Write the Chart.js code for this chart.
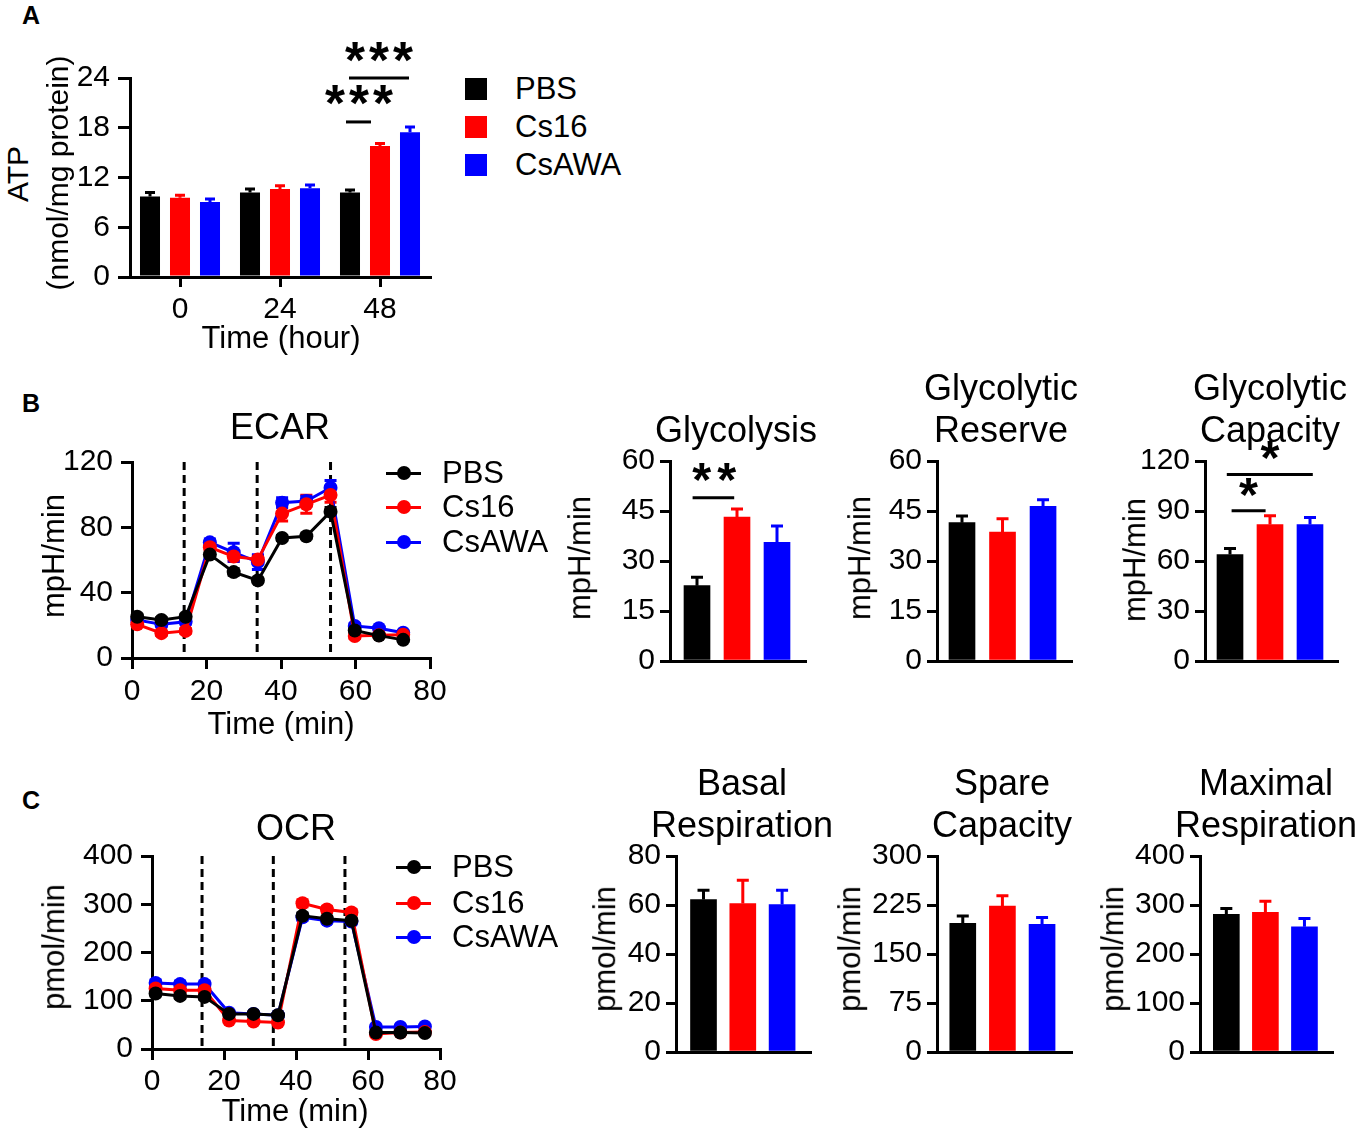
<!DOCTYPE html>
<html>
<head>
<meta charset="utf-8">
<script src="https://cdn.jsdelivr.net/npm/chart.js@4.4.1/dist/chart.umd.min.js"></script>
<style>
  body { margin: 0; background: #fff; }
  #fig { position: relative; width: 1358px; height: 1131px; overflow: hidden; background: #fff;
         font-family: "Liberation Sans", Arial, Helvetica, sans-serif; color: #000; }
  #fig canvas { position: absolute; }
  .lbl { position: absolute; white-space: pre; text-align: center; line-height: 1.15; }
  .sq { position: absolute; width: 22px; height: 22px; }
  .ln { position: absolute; height: 3px; }
  .dot { position: absolute; border-radius: 50%; }
</style>
</head>
<body>
<div id="fig"></div>
<script>
const groups = ['PBS', 'Cs16', 'CsAWA'];
const groupColors = ['#000000', '#ff0000', '#0000ff'];

// A - ATP
const atpHours = ['0', '24', '48'];
const atpPBS = [9.7, 10.2, 10.2];
const atpCs16 = [9.55, 10.6, 15.8];
const atpCsAWA = [9.05, 10.7, 17.45];
const atpErrPBS = [0.5, 0.4, 0.3];
const atpErrCs16 = [0.3, 0.4, 0.3];
const atpErrCsAWA = [0.35, 0.4, 0.65];

// B - ECAR time course
const ecarTime = [1.4, 7.9, 14.4, 20.9, 27.3, 33.8, 40.3, 46.8, 53.3, 59.8, 66.3, 72.8];
const ecarPBS = [25.3, 23.3, 25.3, 63.3, 52.6, 47.5, 73.5, 74.5, 89.6, 16.8, 13.7, 11.1];
const ecarCs16 = [20.6, 15.2, 16.6, 67.8, 62.1, 60.3, 88.4, 94.1, 99.8, 13.5, 14.0, 14.3];
const ecarCsAWA = [23.3, 20.6, 22.2, 70.8, 64.7, 58.7, 95.1, 96.1, 104.2, 19.6, 18.2, 15.5];
const ecarErrPBS = [1.5, 1.5, 1.5, 2, 2, 1.5, 1.5, 1.5, 2.5, 1, 1, 1];
const ecarErrCs16 = [1.5, 1.5, 1.5, 2.5, 3, 2.5, 4.5, 5.5, 4.5, 1.5, 1, 1];
const ecarErrCsAWA = [1.5, 1.5, 1.5, 2, 5.5, 4.5, 3, 3, 4.5, 1.5, 1, 1];
const ecarInject = [14, 33.6, 53.3];

// C - OCR time course
const ocrTime = [1, 7.8, 14.6, 21.4, 28.2, 35, 41.8, 48.6, 55.4, 62.2, 69, 75.8];
const ocrPBS = [115, 110, 108, 72.7, 72.7, 70, 276, 270, 266, 34, 34, 33];
const ocrCs16 = [125.5, 122, 122, 59, 57, 55, 302, 289, 283, 31, 34, 35];
const ocrCsAWA = [137, 134.5, 134.5, 75, 72.7, 70, 273, 266, 264, 45.7, 45.7, 46.5];
const ocrErrPBS = [5, 5, 5, 3, 3, 3, 6, 5, 5, 2, 2, 2];
const ocrErrCs16 = [6, 6, 6, 3, 3, 3, 7, 6, 6, 2, 2, 2];
const ocrErrCsAWA = [6, 6, 6, 3, 3, 3, 6, 5, 5, 2, 2, 2];
const ocrInject = [13.9, 33.7, 53.6];

// summary bars (PBS, Cs16, CsAWA)
const barSlots = [1, 2, 3];
const glycolysis = [22.6, 43.2, 35.6];
const glycolysisErr = [2.5, 2.4, 4.9];
const glycReserve = [41.5, 38.7, 46.4];
const glycReserveErr = [2.0, 4.0, 2.0];
const glycCapacity = [63.9, 81.9, 81.9];
const glycCapacityErr = [3.6, 5.2, 4.2];
const basalResp = [62.2, 60.6, 60.2];
const basalRespErr = [3.8, 9.5, 5.8];
const spareCap = [196.8, 223.3, 195.3];
const spareCapErr = [11.2, 15.7, 10.7];
const maxResp = [280.8, 284.8, 255.6];
const maxRespErr = [12.2, 23, 17];

// significance brackets: x range of the line, its y, star centre and count
const atpSig = [
  {x1: 1.66, x2: 1.91, y: 18.7, sx: 1.79, sy: 21.9, n: 3},
  {x1: 1.69, x2: 2.29, y: 24.0, sx: 1.99, sy: 27.1, n: 3}
];
const glycolysisSig = [{x1: 0.89, x2: 1.93, y: 49.0, sx: 1.43, sy: 56.6, n: 2}];
const capacitySig = [
  {x1: 1.04, x2: 1.89, y: 90.1, sx: 1.46, sy: 104.4, n: 1},
  {x1: 0.92, x2: 3.07, y: 111.9, sx: 2.0, sy: 126.4, n: 1}
];

Chart.defaults.font.family = '"Liberation Sans", Arial, Helvetica, sans-serif';
Chart.defaults.color = '#000';

const fig = document.getElementById('fig');

function makeCanvas(area, yW, xH, pad) {
  const c = document.createElement('canvas');
  const w = area.r - area.l + yW + pad.l + pad.r;
  const h = area.b - area.t + xH + pad.t + pad.b;
  c.width = w; c.height = h;
  c.style.left = (area.l - yW - pad.l) + 'px';
  c.style.top = (area.t - pad.t) + 'px';
  fig.appendChild(c);
  return c;
}

function axis(o) {
  const show = o.ticks !== false;
  return {
    type: o.type, min: o.min, max: o.max, offset: !!o.offset,
    border: {display: true, color: '#000', width: 3},
    grid: {display: show, drawOnChartArea: false, drawTicks: true, tickLength: o.tl || 10,
           lineWidth: 3, color: '#000', offset: false},
    ticks: {display: show, color: '#000', font: {size: 30}, padding: o.pad === undefined ? 5 : o.pad,
            stepSize: o.step, maxRotation: 0, autoSkip: false},
    afterFit: s => {
      if (o.w !== undefined) s.width = o.w;
      if (o.h !== undefined) s.height = o.h;
    }
  };
}

function barErrors(cap) {
  return {
    id: 'barErrors',
    afterDatasetsDraw(chart) {
      const ctx = chart.ctx, ys = chart.scales.y;
      chart.data.datasets.forEach((ds, di) => {
        chart.getDatasetMeta(di).data.forEach((el, i) => {
          const d = ds.data[i];
          const v = typeof d === 'number' ? d : d.y;
          const col = Array.isArray(ds.backgroundColor) ? ds.backgroundColor[i] : ds.backgroundColor;
          const top = ys.getPixelForValue(v + ds.errors[i]);
          ctx.save();
          ctx.strokeStyle = col; ctx.lineWidth = 3;
          ctx.beginPath();
          ctx.moveTo(el.x, el.y); ctx.lineTo(el.x, top);
          ctx.moveTo(el.x - cap / 2, top); ctx.lineTo(el.x + cap / 2, top);
          ctx.stroke();
          ctx.restore();
        });
      });
    }
  };
}

function lineErrors(cap) {
  return {
    id: 'lineErrors',
    beforeDatasetsDraw(chart) {
      const ctx = chart.ctx, ys = chart.scales.y;
      chart.data.datasets.forEach((ds, di) => {
        chart.getDatasetMeta(di).data.forEach((el, i) => {
          const v = ds.data[i].y, e = ds.errors[i];
          const y1 = ys.getPixelForValue(v + e), y2 = ys.getPixelForValue(v - e);
          ctx.save();
          ctx.strokeStyle = ds.borderColor; ctx.lineWidth = 3;
          ctx.beginPath();
          ctx.moveTo(el.x, y1); ctx.lineTo(el.x, y2);
          ctx.moveTo(el.x - cap / 2, y1); ctx.lineTo(el.x + cap / 2, y1);
          ctx.moveTo(el.x - cap / 2, y2); ctx.lineTo(el.x + cap / 2, y2);
          ctx.stroke();
          ctx.restore();
        });
      });
    }
  };
}

function injections(times) {
  return {
    id: 'injections',
    beforeDatasetsDraw(chart) {
      const ctx = chart.ctx, xs = chart.scales.x, a = chart.chartArea;
      ctx.save();
      ctx.strokeStyle = '#000'; ctx.lineWidth = 3; ctx.setLineDash([8, 5]);
      times.forEach(t => {
        const x = xs.getPixelForValue(t);
        ctx.beginPath(); ctx.moveTo(x, a.top); ctx.lineTo(x, a.bottom); ctx.stroke();
      });
      ctx.restore();
    }
  };
}

function drawStar(ctx, cx, cy, size) {
  ctx.font = 'bold 100px "Liberation Sans", Arial, sans-serif';
  let m = ctx.measureText('*');
  const fs = 100 * size / (m.actualBoundingBoxLeft + m.actualBoundingBoxRight);
  ctx.font = 'bold ' + fs.toFixed(1) + 'px "Liberation Sans", Arial, sans-serif';
  m = ctx.measureText('*');
  ctx.textAlign = 'left'; ctx.textBaseline = 'alphabetic';
  const x = cx - (m.actualBoundingBoxRight - m.actualBoundingBoxLeft) / 2;
  const y = cy + (m.actualBoundingBoxAscent - m.actualBoundingBoxDescent) / 2;
  ctx.fillText('*', x, y);
}

function significance(items, size, gap) {
  return {
    id: 'significance',
    afterDraw(chart) {
      const ctx = chart.ctx, xs = chart.scales.x, ys = chart.scales.y;
      ctx.save();
      ctx.strokeStyle = '#000'; ctx.fillStyle = '#000'; ctx.lineWidth = 3;
      items.forEach(s => {
        const y = ys.getPixelForValue(s.y);
        ctx.beginPath();
        ctx.moveTo(xs.getPixelForValue(s.x1), y); ctx.lineTo(xs.getPixelForValue(s.x2), y);
        ctx.stroke();
        const cx = xs.getPixelForValue(s.sx), cy = ys.getPixelForValue(s.sy);
        for (let k = 0; k < s.n; k++) drawStar(ctx, cx + (k - (s.n - 1) / 2) * gap, cy, size);
      });
      ctx.restore();
    }
  };
}

const baseOpts = pad => ({
  responsive: false, animation: false, events: [],
  layout: {padding: {left: pad.l, top: pad.t, right: pad.r, bottom: pad.b}},
  plugins: {legend: {display: false}, tooltip: {enabled: false}}
});

// ---- A: ATP grouped bars
(function () {
  const area = {l: 130, t: 78, r: 430, b: 277}, pad = {l: 5, t: 48, r: 20, b: 5};
  const series = [atpPBS, atpCs16, atpCsAWA], errs = [atpErrPBS, atpErrCs16, atpErrCsAWA];
  const opts = baseOpts(pad);
  opts.scales = {
    x: axis({type: 'category', offset: true, tl: 10, pad: 5, h: 45}),
    y: axis({type: 'linear', min: 0, max: 24, step: 6, tl: 12, pad: 8, w: 60})
  };
  new Chart(makeCanvas(area, 60, 45, pad), {
    type: 'bar',
    data: {
      labels: atpHours,
      datasets: groups.map((g, i) => ({
        label: g, data: series[i], errors: errs[i], backgroundColor: groupColors[i],
        borderWidth: 0, categoryPercentage: 0.9, barPercentage: 0.667
      }))
    },
    options: opts,
    plugins: [barErrors(10), significance(atpSig, 20, 24)]
  });
})();

// ---- time course line charts
function timeCourse(area, times, series, errs, yMax, yStep, inject, yW, xPad) {
  const pad = {l: 5, t: 25, r: 25, b: 5};
  const opts = baseOpts(pad);
  opts.scales = {
    x: axis({type: 'linear', min: 0, max: 80, step: 20, tl: 11, pad: xPad, h: 50}),
    y: axis({type: 'linear', min: 0, max: yMax, step: yStep, tl: 11, pad: 8, w: yW})
  };
  new Chart(makeCanvas(area, yW, 50, pad), {
    type: 'line',
    data: {
      datasets: groups.map((g, i) => ({
        label: g,
        data: times.map((t, j) => ({x: t, y: series[i][j]})),
        errors: errs[i],
        borderColor: groupColors[i], backgroundColor: groupColors[i],
        borderWidth: 3, pointRadius: 7, pointBorderWidth: 0, tension: 0, clip: false
      }))
    },
    options: opts,
    plugins: [injections(inject), lineErrors(12)]
  });
}

timeCourse({l: 132, t: 461, r: 430, b: 658}, ecarTime, [ecarPBS, ecarCs16, ecarCsAWA],
           [ecarErrPBS, ecarErrCs16, ecarErrCsAWA], 120, 40, ecarInject, 80, 5);
timeCourse({l: 152, t: 855, r: 440, b: 1049}, ocrTime, [ocrPBS, ocrCs16, ocrCsAWA],
           [ocrErrPBS, ocrErrCs16, ocrErrCsAWA], 400, 100, ocrInject, 80, 4);

// ---- summary bar charts
function summary(area, xMin, xMax, yMax, yStep, values, errs, sig) {
  const pad = {l: 0, t: 40, r: 5, b: 5};
  const xH = 30;
  const opts = baseOpts(pad);
  opts.scales = {
    x: axis({type: 'linear', min: xMin, max: xMax, ticks: false, h: xH}),
    y: axis({type: 'linear', min: 0, max: yMax, step: yStep, tl: 10, pad: 5, w: 75})
  };
  const plugins = [barErrors(12)];
  if (sig) plugins.push(significance(sig, 19, 25));
  new Chart(makeCanvas(area, 75, xH, pad), {
    type: 'bar',
    data: {
      datasets: [{
        data: barSlots.map((s, i) => ({x: s, y: values[i]})),
        errors: errs, backgroundColor: groupColors, borderWidth: 0, barThickness: 26
      }]
    },
    options: opts,
    plugins: plugins
  });
}

summary({l: 670, t: 461, r: 805, b: 661}, 0.325, 3.7, 60, 15, glycolysis, glycolysisErr, glycolysisSig);
summary({l: 937, t: 461, r: 1071, b: 661}, 0.383, 3.69, 60, 15, glycReserve, glycReserveErr);
summary({l: 1205, t: 461, r: 1337, b: 661}, 0.375, 3.675, 120, 30, glycCapacity, glycCapacityErr, capacitySig);
summary({l: 676, t: 856, r: 810, b: 1052}, 0.30, 3.71, 80, 20, basalResp, basalRespErr);
summary({l: 937, t: 856, r: 1071, b: 1052}, 0.35, 3.73, 300, 75, spareCap, spareCapErr);
summary({l: 1200, t: 856, r: 1332, b: 1052}, 0.326, 3.705, 400, 100, maxResp, maxRespErr);

// ---- text
function label(text, x, y, size, opt) {
  opt = opt || {};
  const d = document.createElement('div');
  d.className = 'lbl';
  d.textContent = text;
  d.style.left = x + 'px';
  d.style.top = y + 'px';
  d.style.fontSize = size + 'px';
  if (opt.lh) d.style.lineHeight = opt.lh + 'px';
  if (opt.bold) d.style.fontWeight = 'bold';
  let tr = opt.left ? 'translate(0,-50%)' : 'translate(-50%,-50%)';
  if (opt.rot) tr += ' rotate(-90deg)';
  d.style.transform = tr;
  fig.appendChild(d);
}

label('A', 31, 15, 25, {bold: true});
label('B', 31, 403, 25, {bold: true});
label('C', 31, 800, 25, {bold: true});

label('ATP', 18, 174, 30, {rot: true});
label('(nmol/mg protein)', 58, 173, 30, {rot: true});
label('Time (hour)', 281, 338, 31);

label('ECAR', 280, 427, 36);
label('mpH/min', 54, 556, 31, {rot: true});
label('Time (min)', 281, 724, 31);

label('OCR', 296, 828, 36);
label('pmol/min', 54, 947, 31, {rot: true});
label('Time (min)', 295, 1111, 31);

label('Glycolysis', 736, 430, 36);
label('Glycolytic\nReserve', 1001, 409, 36, {lh: 42});
label('Glycolytic\nCapacity', 1270, 409, 36, {lh: 42});
label('mpH/min', 580, 558, 31, {rot: true});
label('mpH/min', 860, 558, 31, {rot: true});
label('mpH/min', 1135, 560, 31, {rot: true});

label('Basal\nRespiration', 742, 804, 36, {lh: 42});
label('Spare\nCapacity', 1002, 804, 36, {lh: 42});
label('Maximal\nRespiration', 1266, 804, 36, {lh: 42});
label('pmol/min', 605, 949, 31, {rot: true});
label('pmol/min', 850, 949, 31, {rot: true});
label('pmol/min', 1113, 949, 31, {rot: true});

// legends
const legendA = [89, 127, 165];
groups.forEach((g, i) => {
  const s = document.createElement('div');
  s.className = 'sq';
  s.style.left = '465px'; s.style.top = (legendA[i] - 11) + 'px';
  s.style.background = groupColors[i];
  fig.appendChild(s);
  label(g, 515, legendA[i], 31, {left: true});
});

function lineLegend(x0, rows, textX) {
  groups.forEach((g, i) => {
    const l = document.createElement('div');
    l.className = 'ln';
    l.style.left = x0 + 'px'; l.style.width = '35px';
    l.style.top = (rows[i] - 1.5) + 'px';
    l.style.background = groupColors[i];
    fig.appendChild(l);
    const d = document.createElement('div');
    d.className = 'dot';
    d.style.left = (x0 + 17.5 - 7) + 'px'; d.style.top = (rows[i] - 7) + 'px';
    d.style.width = '14px'; d.style.height = '14px';
    d.style.background = groupColors[i];
    fig.appendChild(d);
    label(g, textX, rows[i], 31, {left: true});
  });
}
lineLegend(386, [473, 507, 542], 442);
lineLegend(396, [867, 903, 937], 452);
</script>
</body>
</html>
